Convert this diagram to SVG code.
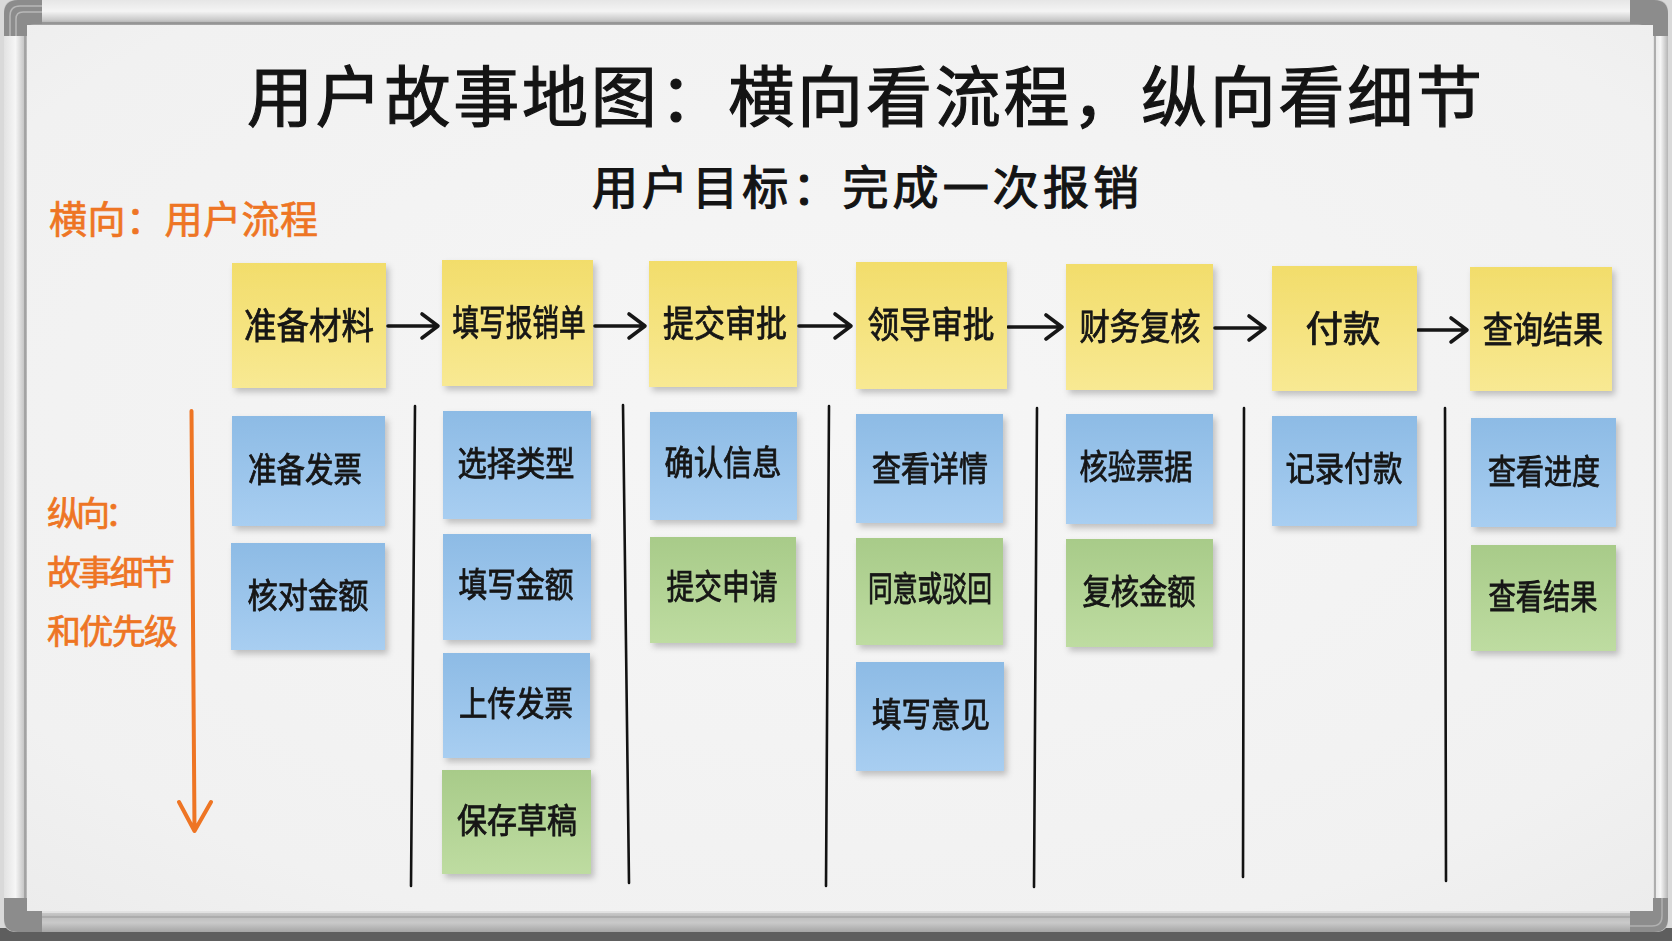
<svg xmlns="http://www.w3.org/2000/svg" width="1672" height="941" viewBox="0 0 1672 941">
<defs>
<style>
.t{font-family:'Noto Sans CJK SC','Noto Sans CJK JP',sans-serif;fill:#141414;stroke:#141414;stroke-width:1.2}
.h{font-family:'Noto Sans CJK SC','Noto Sans CJK JP',sans-serif;fill:#EE7524;stroke:#EE7524;stroke-width:0.7}
.note{filter:url(#sh)}
.y{fill:url(#gy)}
.b{fill:url(#gb)}
.g{fill:url(#gg)}
.nt{font-family:'Noto Sans CJK SC','Noto Sans CJK JP',sans-serif;fill:#141414;stroke:#141414;stroke-width:0.8;font-size:34px;text-anchor:middle}
.yt{font-size:36px}
.arr{fill:none;stroke:#161616;stroke-width:3.6;stroke-linecap:round;stroke-linejoin:round}
.div{fill:none;stroke:#121212;stroke-width:2.6;stroke-linecap:round}
.or{fill:none;stroke:#EE7524;stroke-width:4;stroke-linecap:round;stroke-linejoin:round}
</style>
<linearGradient id="gy" x1="0" y1="0" x2="0" y2="1"><stop offset="0" stop-color="#F2DD6B"/><stop offset="1" stop-color="#F8E993"/></linearGradient>
<linearGradient id="gb" x1="0" y1="0" x2="0" y2="1"><stop offset="0" stop-color="#8DBBE5"/><stop offset="1" stop-color="#A8CEF1"/></linearGradient>
<linearGradient id="gg" x1="0" y1="0" x2="0" y2="1"><stop offset="0" stop-color="#A8CB89"/><stop offset="1" stop-color="#BEDCA1"/></linearGradient>
<radialGradient id="gboard" cx="0.5" cy="0.45" r="0.8"><stop offset="0" stop-color="#F6F6F6"/><stop offset="0.75" stop-color="#F1F1F1"/><stop offset="1" stop-color="#EAEAEA"/></radialGradient>
<linearGradient id="fh" x1="0" y1="0" x2="0" y2="1"><stop offset="0" stop-color="#E6E6E6"/><stop offset="0.45" stop-color="#F4F4F4"/><stop offset="0.8" stop-color="#C9C9C9"/><stop offset="1" stop-color="#9E9E9E"/></linearGradient>
<linearGradient id="fb" x1="0" y1="0" x2="0" y2="1"><stop offset="0" stop-color="#D8D8D8"/><stop offset="0.3" stop-color="#BDBDBD"/><stop offset="0.6" stop-color="#C9C9C9"/><stop offset="1" stop-color="#A5A5A5"/></linearGradient>
<linearGradient id="fv" x1="0" y1="0" x2="1" y2="0"><stop offset="0" stop-color="#E2E2E2"/><stop offset="0.5" stop-color="#F6F6F6"/><stop offset="1" stop-color="#B5B5B5"/></linearGradient>
<filter id="sh" x="-10%" y="-10%" width="125%" height="130%"><feDropShadow dx="3" dy="4" stdDeviation="3" flood-color="#000" flood-opacity="0.22"/></filter>
</defs>

<g id="background">
<rect x="0" y="0" width="1672" height="941" fill="#D9D9D9"/>
<rect x="0" y="928" width="1672" height="13" fill="#5E5E5E"/>
</g>

<g id="frame">
<rect x="4" y="0" width="1664" height="932" rx="10" fill="#C4C4C4"/>
<rect x="30" y="0" width="1612" height="25" fill="url(#fh)"/>
<rect x="30" y="909" width="1612" height="23" fill="url(#fb)"/>
<rect x="4" y="30" width="23" height="880" fill="url(#fv)"/>
<rect x="1653" y="30" width="15" height="880" fill="url(#fv)"/>
<line x1="27" y1="23" x2="1653" y2="23" stroke="#8E8E8E" stroke-width="1.5"/>
<line x1="27" y1="912" x2="1653" y2="912" stroke="#E8E8E8" stroke-width="1.5"/>
<line x1="30" y1="917" x2="1642" y2="917" stroke="#9A9A9A" stroke-width="1"/>
<line x1="25" y1="25" x2="25" y2="910" stroke="#9A9A9A" stroke-width="1.5"/>
<line x1="1655" y1="25" x2="1655" y2="910" stroke="#9A9A9A" stroke-width="1.5"/>
<path d="M4 36 V14 Q4 0 18 0 H42 V24 H34 Q27 24 27 31 V36 Z" fill="#8C8C8C"/>
<path d="M10 36 V16 Q10 6 20 6 H42 M16 36 V19 Q16 12 23 12 H42" fill="none" stroke="#B8B8B8" stroke-width="1.5"/>
<path d="M1668 36 V14 Q1668 0 1654 0 H1630 V24 H1638 Q1645 24 1645 31 V36 Z" fill="#8C8C8C"/>
<path d="M4 898 V918 Q4 932 18 932 H42 V910 H34 Q27 910 27 903 V898 Z" fill="#8C8C8C"/>
<path d="M1668 898 V918 Q1668 932 1654 932 H1630 V910 H1640 Q1653 910 1653 903 V898 Z" fill="#8C8C8C"/>
<path d="M1662 898 V916 Q1662 926 1652 926 H1630" fill="none" stroke="#B0B0B0" stroke-width="1.5"/>
</g>

<g id="board">
<rect x="27" y="25" width="1626" height="886" fill="url(#gboard)"/>
</g>

<g id="titles">
<text id="title" class="t" x="247" y="121" font-size="66" textLength="1235" lengthAdjust="spacing">用户故事地图：横向看流程，纵向看细节</text>
<text id="subtitle" class="t" x="592" y="204" font-size="46" textLength="547" lengthAdjust="spacing">用户目标：完成一次报销</text>
</g>

<g id="axis-labels">
<text class="h" x="49" y="233" font-size="38" textLength="269" lengthAdjust="spacing">横向：用户流程</text>
<text class="h" x="47" y="526" font-size="34" textLength="92" lengthAdjust="spacing">纵向：</text>
<text class="h" x="47" y="585" font-size="34" textLength="128" lengthAdjust="spacing">故事细节</text>
<text class="h" x="47" y="644" font-size="34" textLength="131" lengthAdjust="spacing">和优先级</text>
<path class="or" d="M191.5 411 L194.5 830 M179 802 L194.5 831 L211 802"/>
</g>

<g id="lanes">
<path class="div" d="M415 406 L411 886"/>
<path class="div" d="M623 405 L629 883"/>
<path class="div" d="M829 406 L826 886"/>
<path class="div" d="M1037 408 L1034 887"/>
<path class="div" d="M1244 408 L1243 877"/>
<path class="div" d="M1445 408 L1446 881"/>
</g>

<g id="connectors">
<path class="arr" d="M388 326 H437 M422 314 L438 326 L422 338"/>
<path class="arr" d="M595 326 H644 M629 314 L645 326 L629 338"/>
<path class="arr" d="M799 326 H850 M835 314 L851 326 L835 338"/>
<path class="arr" d="M1008 327 H1061 M1046 315 L1062 327 L1046 339"/>
<path class="arr" d="M1215 328 H1264 M1249 316 L1265 328 L1249 340"/>
<path class="arr" d="M1418 330 H1466 M1451 318 L1467 330 L1451 342"/>
</g>

<g id="y1" class="note"><rect class="y" x="232" y="263" width="154" height="125"/><text class="nt yt" x="309" y="339" textLength="130" lengthAdjust="spacingAndGlyphs">准备材料</text></g>
<g id="y2" class="note"><rect class="y" x="442" y="260" width="151" height="126"/><text class="nt yt" x="519" y="336" textLength="133" lengthAdjust="spacingAndGlyphs">填写报销单</text></g>
<g id="y3" class="note"><rect class="y" x="649" y="261" width="148" height="126"/><text class="nt yt" x="725" y="337" textLength="124" lengthAdjust="spacingAndGlyphs">提交审批</text></g>
<g id="y4" class="note"><rect class="y" x="856" y="262" width="151" height="127"/><text class="nt yt" x="931" y="338" textLength="127" lengthAdjust="spacingAndGlyphs">领导审批</text></g>
<g id="y5" class="note"><rect class="y" x="1066" y="264" width="147" height="126"/><text class="nt yt" x="1140" y="340" textLength="121" lengthAdjust="spacingAndGlyphs">财务复核</text></g>
<g id="y6" class="note"><rect class="y" x="1272" y="266" width="145" height="125"/><text class="nt yt" x="1343" y="342" textLength="75" lengthAdjust="spacingAndGlyphs">付款</text></g>
<g id="y7" class="note"><rect class="y" x="1470" y="267" width="142" height="124"/><text class="nt yt" x="1543" y="343" textLength="120" lengthAdjust="spacingAndGlyphs">查询结果</text></g>

<g id="c1-1" class="note"><rect class="b" x="232" y="416" width="153" height="110"/><text class="nt" x="305" y="482" textLength="114" lengthAdjust="spacingAndGlyphs">准备发票</text></g>
<g id="c1-2" class="note"><rect class="b" x="231" y="543" width="154" height="107"/><text class="nt" x="308" y="608" textLength="121" lengthAdjust="spacingAndGlyphs">核对金额</text></g>

<g id="c2-1" class="note"><rect class="b" x="443" y="411" width="148" height="108"/><text class="nt" x="516" y="476" textLength="117" lengthAdjust="spacingAndGlyphs">选择类型</text></g>
<g id="c2-2" class="note"><rect class="b" x="443" y="534" width="148" height="106"/><text class="nt" x="516" y="597" textLength="115" lengthAdjust="spacingAndGlyphs">填写金额</text></g>
<g id="c2-3" class="note"><rect class="b" x="443" y="653" width="147" height="105"/><text class="nt" x="516" y="716" textLength="114" lengthAdjust="spacingAndGlyphs">上传发票</text></g>
<g id="c2-4" class="note"><rect class="g" x="442" y="770" width="149" height="104"/><text class="nt" x="517" y="833" textLength="120" lengthAdjust="spacingAndGlyphs">保存草稿</text></g>

<g id="c3-1" class="note"><rect class="b" x="650" y="412" width="147" height="108"/><text class="nt" x="723" y="475" textLength="117" lengthAdjust="spacingAndGlyphs">确认信息</text></g>
<g id="c3-2" class="note"><rect class="g" x="650" y="537" width="146" height="106"/><text class="nt" x="722" y="599" textLength="111" lengthAdjust="spacingAndGlyphs">提交申请</text></g>

<g id="c4-1" class="note"><rect class="b" x="856" y="414" width="147" height="109"/><text class="nt" x="930" y="481" textLength="116" lengthAdjust="spacingAndGlyphs">查看详情</text></g>
<g id="c4-2" class="note"><rect class="g" x="856" y="538" width="147" height="107"/><text class="nt" x="930" y="601" textLength="124" lengthAdjust="spacingAndGlyphs">同意或驳回</text></g>
<g id="c4-3" class="note"><rect class="b" x="856" y="662" width="148" height="109"/><text class="nt" x="931" y="727" textLength="118" lengthAdjust="spacingAndGlyphs">填写意见</text></g>

<g id="c5-1" class="note"><rect class="b" x="1066" y="414" width="147" height="110"/><text class="nt" x="1136" y="479" textLength="113" lengthAdjust="spacingAndGlyphs">核验票据</text></g>
<g id="c5-2" class="note"><rect class="g" x="1066" y="539" width="147" height="108"/><text class="nt" x="1139" y="604" textLength="113" lengthAdjust="spacingAndGlyphs">复核金额</text></g>

<g id="c6-1" class="note"><rect class="b" x="1272" y="416" width="145" height="110"/><text class="nt" x="1344" y="481" textLength="117" lengthAdjust="spacingAndGlyphs">记录付款</text></g>

<g id="c7-1" class="note"><rect class="b" x="1471" y="418" width="145" height="109"/><text class="nt" x="1544" y="484" textLength="112" lengthAdjust="spacingAndGlyphs">查看进度</text></g>
<g id="c7-2" class="note"><rect class="g" x="1471" y="545" width="145" height="106"/><text class="nt" x="1543" y="609" textLength="109" lengthAdjust="spacingAndGlyphs">查看结果</text></g>
</svg>
